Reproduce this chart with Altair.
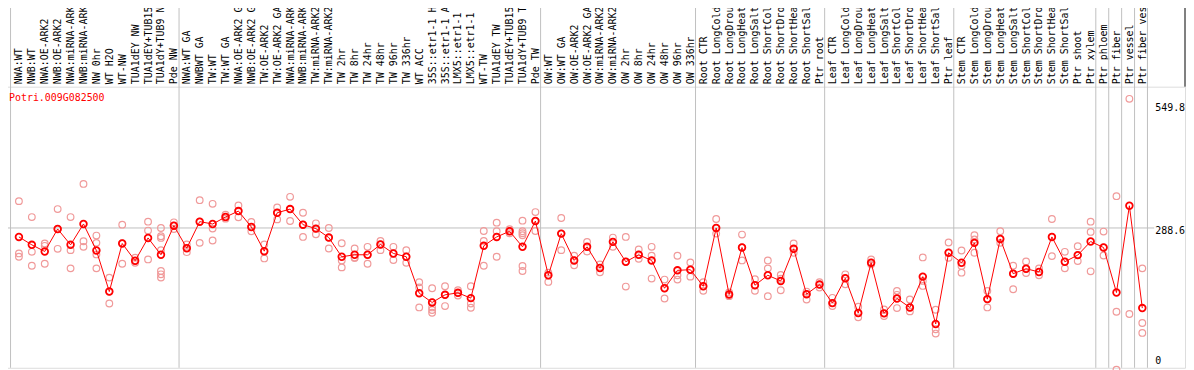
import json
import altair as alt
import pandas as pd

gene = "Potri.009G082500"

names = [
    "NWA:WT", "NWB:WT", "NWA:OE-ARK2", "NWB:OE-ARK2", "NWA:miRNA-ARK2", "NWB:miRNA-ARK2",
    "NW 0hr", "WT H2O", "WT-NW", "TUA1dEY NW", "TUA1dEY+TUB15 NW", "TUA1dY+TUB9 NW", "Pde NW",
    "NWA:WT GA", "NWBWT GA", "TW:WT", "TW:WT GA", "NWA:OE-ARK2 GA", "NWB:OE-ARK2 GA",
    "TW:OE-ARK2", "TW:OE-ARK2 GA", "NWA:miRNA-ARK2", "NWB:miRNA-ARK2", "TW:miRNA-ARK2",
    "TW:miRNA-ARK2", "TW 2hr", "TW 8hr", "TW 24hr", "TW 48hr", "TW 96hr", "TW 336hr", "WT ACC",
    "35S::etr1-1 H2O", "35S::etr1-1 ACC", "LMX5::etr1-1 H2O", "LMX5::etr1-1 ACC", "WT-TW",
    "TUA1dEY TW", "TUA1dEY+TUB15 TW", "TUA1dY+TUB9 TW", "Pde TW",
    "OW:WT", "OW:WT GA", "OW:OE-ARK2", "OW:OE-ARK2 GA", "OW:miRNA-ARK2", "OW:miRNA-ARK2",
    "OW 2hr", "OW 8hr", "OW 24hr", "OW 48hr", "OW 96hr", "OW 336hr",
    "Root CTR", "Root LongCold", "Root LongDrought", "Root LongHeat", "Root LongSalt",
    "Root ShortCold", "Root ShortDrought", "Root ShortHeat", "Root ShortSalt", "Ptr root",
    "Leaf CTR", "Leaf LongCold", "Leaf LongDrought", "Leaf LongHeat", "Leaf LongSalt",
    "Leaf ShortCold", "Leaf ShortDrought", "Leaf ShortHeat", "Leaf ShortSalt", "Ptr leaf",
    "Stem CTR", "Stem LongCold", "Stem LongDrought", "Stem LongHeat", "Stem LongSalt",
    "Stem ShortCold", "Stem ShortDrought", "Stem ShortHeat", "Stem ShortSalt", "Ptr shoot",
    "Ptr xylem", "Ptr phloem", "Ptr fiber", "Ptr vessel", "Ptr fiber vessel",
]

means = [
    270.5, 254.5, 241.1, 286.6, 254.5, 296.7, 243.1, 160.0, 257.2, 222.3, 268.5, 234.4, 293.3,
    247.8, 301.4, 296.7, 310.7, 322.8, 290.6, 241.7, 319.4, 326.8, 295.3, 287.3, 269.2, 230.4,
    234.4, 234.4, 255.2, 237.1, 230.4, 156.7, 137.9, 153.4, 157.4, 146.7, 252.5, 270.5, 281.9,
    250.5, 302.7,
    192.9, 277.2, 223.0, 250.5, 207.6, 260.5, 220.3, 234.4, 223.0, 166.7, 202.9, 204.2,
    170.8, 288.6, 154.0, 249.1, 172.8, 192.9, 181.5, 246.4, 154.7, 174.1,
    136.6, 186.8, 116.5, 218.3, 115.9, 146.0, 127.9, 190.2, 94.4, 238.4,
    218.3, 258.5, 144.7, 266.5, 196.2, 206.2, 199.6, 270.5, 220.3, 233.7,
    261.2, 249.1, 158.0, 333.5, 126.6,
]

replicates = [
    [342.9, 237.1, 230.4], [310.7, 240.4, 212.3], [257.2, 252.5, 216.3], [326.8, 286.6, 246.4],
    [310.7, 243.8, 206.9], [377.7, 261.8, 250.5], [273.2, 258.5, 235.1, 206.9],
    [188.2, 160.0, 135.9], [295.3, 258.0, 216.3], [228.4, 222.0, 218.3], [301.4, 283.3, 225.0],
    [288.6, 271.9, 268.5, 243.8, 201.6, 194.9, 188.2], [300.0, 293.3, 286.6],
    [255.2, 247.8, 239.7], [344.9, 301.4, 258.5], [337.5, 287.3, 263.2], [315.4, 310.7, 307.4],
    [334.2, 322.8, 310.1], [300.7, 290.6, 281.9], [255.2, 241.7, 227.0], [330.2, 319.4, 306.0],
    [351.6, 326.8, 302.7], [319.4, 295.3, 270.5], [298.0, 287.3, 275.9], [288.6, 269.2, 247.1],
    [257.8, 223.0, 208.9], [247.1, 229.0, 227.7], [250.5, 234.4, 216.3], [262.5, 255.2, 243.8],
    [250.5, 237.1, 223.7], [243.8, 230.4, 218.3], [178.8, 168.1, 127.9],
    [166.7, 137.9, 127.9, 122.5, 117.2], [170.8, 153.4, 130.6], [162.7, 157.4, 152.0],
    [170.8, 135.9, 127.2], [282.6, 262.5, 212.3], [299.3, 281.9, 230.4], [286.0, 281.9, 278.0],
    [303.4, 281.9, 277.9, 273.9, 211.6, 201.6], [320.8, 302.7, 282.6],
    [198.2, 192.9, 179.5], [308.7, 277.2, 243.8], [232.4, 223.0, 213.0], [260.5, 250.5, 241.1],
    [215.0, 207.6, 198.9], [269.2, 260.5, 250.5], [270.5, 220.3, 170.1], [245.1, 234.4, 226.3],
    [250.5, 232.4, 186.2], [184.2, 166.7, 146.0], [232.4, 192.9, 184.2], [219.0, 204.2, 190.2],
    [178.8, 170.8, 161.4], [306.7, 288.6, 277.2], [158.0, 154.0, 150.7], [275.2, 249.1, 223.0],
    [184.8, 172.8, 161.4], [223.0, 206.9, 150.7], [193.5, 186.0, 162.7], [257.2, 246.4, 238.4],
    [160.0, 154.7, 144.0], [178.8, 174.1, 168.1],
    [147.3, 136.6, 130.6], [194.9, 186.8, 174.8], [129.2, 116.5, 107.8], [225.0, 218.3, 215.0],
    [123.9, 115.9, 110.5], [161.4, 153.4, 126.6], [144.0, 127.9, 119.9], [229.0, 181.5, 171.4],
    [123.2, 83.7, 75.0], [259.2, 238.4, 228.4],
    [243.1, 211.6, 198.2], [273.9, 265.2, 238.4], [161.4, 144.7, 127.9], [281.9, 266.5, 258.5],
    [212.3, 196.2, 164.7], [221.0, 206.2, 197.5], [206.9, 199.6, 192.9], [306.7, 270.5, 231.7],
    [240.4, 220.3, 206.9], [251.8, 233.7, 221.7],
    [301.4, 280.6, 200.9], [281.3, 249.1, 233.0], [352.9, 119.2, 2.0], [549.8, 114.5],
    [206.9, 96.4, 76.3],
]

separators = [0.35, 13.4, 41.4, 53.4, 63.4, 73.4, 84.4, 85.4, 86.4, 87.4, 88.4]
axis_values = [549.8, 288.6, 0]
guide_value = 288.6

W, H = 1192, 283
FONT = "DejaVu Sans Mono"
GRAY = "#c0c0c0"

idx = list(range(1, len(names) + 1))
mean_df = pd.DataFrame({"idx": idx, "v": means, "name": names})
rep_df = pd.DataFrame(
    [{"idx": i, "v": v} for i, vals in zip(idx, replicates) for v in vals]
)
sep_df = pd.DataFrame({"pos": separators})
one = pd.DataFrame({"a": [0]})

label_expr = "[" + ",".join(json.dumps(n) for n in names) + "][datum.value - 1]"

xscale = alt.Scale(domain=[-5 / 13, 1187 / 13], nice=False, zero=False)
yscale = alt.Scale(domain=[5.8, 574.4], nice=False, zero=False)
xaxis = alt.Axis(
    orient="top", values=idx, labelExpr=label_expr, labelAngle=-90, labelAlign="left",
    labelBaseline="middle", labelPadding=3, ticks=False, tickSize=0, domain=False,
    grid=False, labelFont=FONT, labelFontSize=10, labelColor="black", labelOverlap=False,
    labelBound=False, labelFlush=False, labelLimit=0, title=None,
)


def X(field):
    return alt.X(field, type="quantitative", scale=xscale, axis=xaxis)


def Y(field):
    return alt.Y(field, type="quantitative", scale=yscale, axis=None)


seps = alt.Chart(sep_df).mark_rule(color=GRAY, strokeWidth=1).encode(
    x=X("pos"), y=alt.value(-86), y2=alt.value(H)
)
hline = alt.Chart(pd.DataFrame({"v": [guide_value]})).mark_rule(
    color=GRAY, strokeWidth=1
).encode(y=Y("v"), x=alt.value(0), x2=alt.value(1161))
right_edge = alt.Chart(one).mark_rule(color="black", strokeWidth=1).encode(
    x=alt.value(W), y=alt.value(-86), y2=alt.value(0)
)

reps = alt.Chart(rep_df).mark_point(
    shape="circle", filled=False, color="#f09a9a", size=45, strokeWidth=1.2, opacity=1
).encode(x=X("idx"), y=Y("v"))

line = alt.Chart(mean_df).mark_line(color="#ff0000", strokeWidth=1).encode(
    x=X("idx"), y=Y("v"), order="idx:Q"
)
mean_pts = alt.Chart(mean_df).mark_point(
    shape="circle", filled=False, color="#ff0000", size=45, strokeWidth=1.8, opacity=1
).encode(x=X("idx"), y=Y("v"))

title = alt.Chart(pd.DataFrame({"t": [gene]})).mark_text(
    align="left", baseline="middle", font=FONT, fontSize=10, color="#ff0000"
).encode(x=alt.value(8), y=alt.value(11), text="t:N")

lab_df = pd.DataFrame({"v": axis_values, "t": [f"{v:g}" for v in axis_values]})


def ylabel(i, dy):
    return alt.Chart(lab_df.iloc[[i]]).mark_text(
        align="left", baseline="middle", font=FONT, fontSize=10, color="black", dy=dy
    ).encode(x=alt.value(1162), y=Y("v"), text="t:N")


chart = alt.layer(
    seps, hline, right_edge, reps, line, mean_pts, title,
    ylabel(0, 9), ylabel(1, 3), ylabel(2, -10),
).properties(
    width=W, height=H,
    padding={"left": -7, "top": 78, "right": 1, "bottom": 1},
    autosize=alt.AutoSizeParams(type="none"),
).configure_view(stroke="black", strokeWidth=1).configure(background="white")

chart.save("out.html", embed_options={"renderer": "svg", "actions": False})
